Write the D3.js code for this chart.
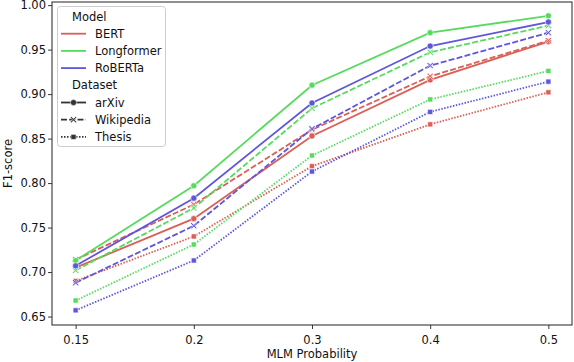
<!DOCTYPE html>
<html>
<head>
<meta charset="utf-8">
<script src="https://cdn.jsdelivr.net/npm/d3@7"></script>
<style>
body { margin: 0; background: #fff; }
text { font-family: "DejaVu Sans", sans-serif; }
</style>
</head>
<body>
<script>
var probs = ['0.15', '0.2', '0.3', '0.4', '0.5'];
var models = ['BERT', 'Longformer', 'RoBERTa'];
var datasets = ['arXiv', 'Wikipedia', 'Thesis'];
var colors = ['#db5f57', '#57db5f', '#5f57db'];
var yTicks = [0.65, 0.70, 0.75, 0.80, 0.85, 0.90, 0.95, 1.00];

// F1 per model, per dataset
var bertArxiv = [0.705, 0.760, 0.853, 0.916, 0.959];
var bertWiki = [0.714, 0.776, 0.860, 0.920, 0.960];
var bertThesis = [0.690, 0.740, 0.819, 0.866, 0.902];
var longArxiv = [0.713, 0.797, 0.910, 0.969, 0.988];
var longWiki = [0.702, 0.772, 0.884, 0.947, 0.977];
var longThesis = [0.668, 0.731, 0.831, 0.894, 0.926];
var robArxiv = [0.707, 0.783, 0.890, 0.954, 0.981];
var robWiki = [0.688, 0.752, 0.861, 0.932, 0.969];
var robThesis = [0.657, 0.713, 0.813, 0.880, 0.914];

var series = [
	{m: 0, d: 0, v: bertArxiv}, {m: 0, d: 1, v: bertWiki}, {m: 0, d: 2, v: bertThesis},
	{m: 1, d: 0, v: longArxiv}, {m: 1, d: 1, v: longWiki}, {m: 1, d: 2, v: longThesis},
	{m: 2, d: 0, v: robArxiv}, {m: 2, d: 1, v: robWiki}, {m: 2, d: 2, v: robThesis}
];

var W = 574, H = 362;
var pL = 52, pR = 572, pT = 2, pB = 325;
var fs = 11.5;

var svg = d3.select('body').append('svg').attr('width', W).attr('height', H);

var x = d3.scaleLinear().domain([-0.2, 4.2]).range([pL, pR]);
var y = d3.scaleLinear().domain([0.6405, 1.0035]).range([pB, pT]);

var dashes = ['none', '6,2.25', '1.5,1.5'];

var markerPath = function(d){
	if(d == 0) return d3.symbol().type(d3.symbolCircle).size(30)();
	if(d == 1) return 'M-3.2,-2.2L-2.2,-3.2L0,-1L2.2,-3.2L3.2,-2.2L1,0L3.2,2.2L2.2,3.2L0,1L-2.2,3.2L-3.2,2.2L-1,0Z';
	return d3.symbol().type(d3.symbolSquare).size(26)();
};

// axes
var xAxis = svg.append('g').attr('transform', 'translate(0,' + pB + ')')
	.call(d3.axisBottom(x).tickValues([0, 1, 2, 3, 4]).tickFormat(function(i){ return probs[i]; }).tickSize(4).tickSizeOuter(0));
var yAxis = svg.append('g').attr('transform', 'translate(' + pL + ',0)')
	.call(d3.axisLeft(y).tickValues(yTicks).tickFormat(d3.format('.2f')).tickSize(4).tickSizeOuter(0));
[xAxis, yAxis].forEach(function(a){
	a.select('.domain').remove();
	a.selectAll('line').attr('stroke', '#222').attr('stroke-width', 0.9);
	a.selectAll('text').attr('font-size', fs).attr('fill', '#111').attr('font-family', 'DejaVu Sans');
});
xAxis.selectAll('text').attr('y', 8).attr('dy', '0.95em');
yAxis.selectAll('text').attr('x', -6);

var line = d3.line().x(function(v, i){ return x(i); }).y(function(v){ return y(v); });

series.forEach(function(s){
	var c = colors[s.m];
	svg.append('path').attr('d', line(s.v))
		.attr('fill', 'none').attr('stroke', c).attr('stroke-width', 1.8)
		.attr('stroke-dasharray', dashes[s.d]);
	svg.selectAll(null).data(s.v).enter().append('path')
		.attr('d', markerPath(s.d))
		.attr('transform', function(v, i){ return 'translate(' + x(i) + ',' + y(v) + ')'; })
		.attr('fill', c).attr('stroke', '#fff').attr('stroke-width', 0.6);
});

// frame
svg.append('rect').attr('x', pL).attr('y', pT).attr('width', pR - pL).attr('height', pB - pT)
	.attr('fill', 'none').attr('stroke', '#222').attr('stroke-width', 1);

// axis labels
svg.append('text').attr('x', (pL + pR) / 2).attr('y', 358).attr('text-anchor', 'middle')
	.attr('font-size', fs).attr('fill', '#111').text('MLM Probability');
svg.append('text').attr('transform', 'translate(12,' + ((pT + pB) / 2) + ') rotate(-90)')
	.attr('text-anchor', 'middle').attr('font-size', fs).attr('fill', '#111').text('F1-score');

// legend
var lg = svg.append('g');
lg.append('rect').attr('x', 57.5).attr('y', 6.5).attr('width', 108).attr('height', 140).attr('rx', 3)
	.attr('fill', '#fff').attr('fill-opacity', 0.8).attr('stroke', '#ccc').attr('stroke-width', 1);
var rows = [
	{t: 'Model', title: true}, {t: 'BERT', c: colors[0]}, {t: 'Longformer', c: colors[1]}, {t: 'RoBERTa', c: colors[2]},
	{t: 'Dataset', title: true}, {t: 'arXiv', c: '#333', d: 0}, {t: 'Wikipedia', c: '#333', d: 1}, {t: 'Thesis', c: '#333', d: 2}
];
rows.forEach(function(r, i){
	var ry = 16.5 + i * 17.2;
	if(r.title){
		lg.append('text').attr('x', 72).attr('y', ry + 4).attr('font-size', fs).attr('fill', '#111').text(r.t);
		return;
	}
	lg.append('line').attr('x1', 61).attr('x2', 86).attr('y1', ry).attr('y2', ry)
		.attr('stroke', r.c).attr('stroke-width', 1.8)
		.attr('stroke-dasharray', r.d == null ? 'none' : dashes[r.d]);
	if(r.d != null){
		lg.append('path').attr('d', markerPath(r.d)).attr('transform', 'translate(73.5,' + ry + ')')
			.attr('fill', r.c).attr('stroke', '#fff').attr('stroke-width', 0.6);
	}
	lg.append('text').attr('x', 95).attr('y', ry + 4).attr('font-size', fs).attr('fill', '#111').text(r.t);
});
</script>
</body>
</html>
